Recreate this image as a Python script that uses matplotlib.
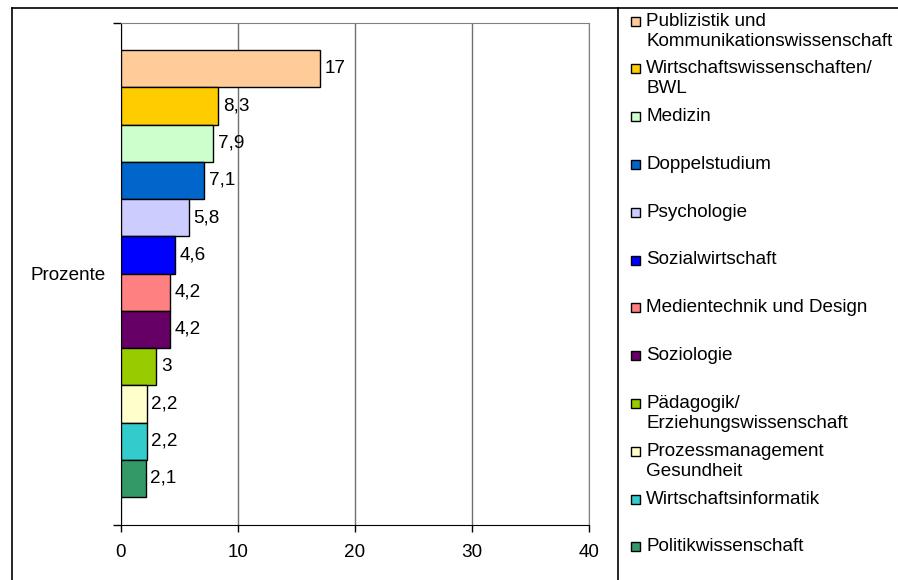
import matplotlib.pyplot as plt
from matplotlib.patches import Rectangle
from matplotlib.lines import Line2D

plt.rcParams['font.family'] = ['Liberation Sans', 'DejaVu Sans']

# Daten
faecher = ['Publizistik und\nKommunikationswissenschaft', 'Wirtschaftswissenschaften/\nBWL',
           'Medizin', 'Doppelstudium', 'Psychologie', 'Sozialwirtschaft',
           'Medientechnik und Design', 'Soziologie', 'Pädagogik/\nErziehungswissenschaft',
           'Prozessmanagement\nGesundheit', 'Wirtschaftsinformatik', 'Politikwissenschaft']
prozente = [17, 8.3, 7.9, 7.1, 5.8, 4.6, 4.2, 4.2, 3, 2.2, 2.2, 2.1]
farben = ['#FFCC99', '#FFCC00', '#CCFFCC', '#0066CC', '#CCCCFF', '#0000FF',
          '#FF8080', '#660066', '#99CC00', '#FFFFCC', '#33CCCC', '#339966']
kategorie = 'Prozente'
xticks = [0, 10, 20, 30, 40]

W, H = 898, 580
FS = 13.6
fig = plt.figure(figsize=(W / 100, H / 100), dpi=100)
ax = fig.add_axes([121 / W, (H - 525) / H, (589 - 121) / W, (525 - 23) / H])

n = len(prozente)
pos = [n - 1 - i for i in range(n)]
ax.barh(pos, prozente, height=1, color=farben, edgecolor='black', linewidth=1, zorder=3)
for p, v in zip(pos, prozente):
    ax.text(v + 0.4, p, f'{v:g}'.replace('.', ','), va='center', ha='left', fontsize=FS, zorder=4)

ax.set_xlim(0, 40)
ax.set_ylim(-1.25, 12.225)
ax.set_xticks(xticks)
ax.tick_params(axis='x', length=5, width=1, labelsize=FS, pad=9, direction='out')
ax.xaxis.grid(True, color='#707070', linewidth=1, zorder=0)

ax.set_yticks([(-1.25 + 12.225) / 2], labels=[kategorie])
ax.tick_params(axis='y', length=0, labelsize=FS, pad=11)
ax.set_yticks([-1.25, 12.225], minor=True)
ax.tick_params(axis='y', which='minor', length=6, width=1, direction='out')

for s in ['top', 'right']:
    ax.spines[s].set_color('#808080')
for s in ['left', 'bottom']:
    ax.spines[s].set_color('black')

# Legende (manuell, erste Zeile am Kästchen ausgerichtet)
y0, dy = 21, 47.8
for i, (name, c) in enumerate(zip(faecher, farben)):
    yc = y0 + i * dy
    fig.add_artist(Rectangle((631 / W, 1 - (yc + 4.5) / H), 9 / W, 9 / H,
                             facecolor=c, edgecolor='black', linewidth=1,
                             transform=fig.transFigure))
    for j, line in enumerate(name.split('\n')):
        fig.text(646 / W, 1 - (yc + j * 20) / H, line, fontsize=FS, va='center', ha='left')

# Rahmen
fig.add_artist(Line2D([12 / W, 12 / W], [0, 1 - 7.5 / H], color='black', linewidth=1.2))
fig.add_artist(Line2D([12 / W, 1], [1 - 7.5 / H, 1 - 7.5 / H], color='black', linewidth=1.2))
fig.add_artist(Line2D([618 / W, 618 / W], [0, 1 - 7.5 / H], color='black', linewidth=1.2))

fig.savefig('out.png', dpi=100)
